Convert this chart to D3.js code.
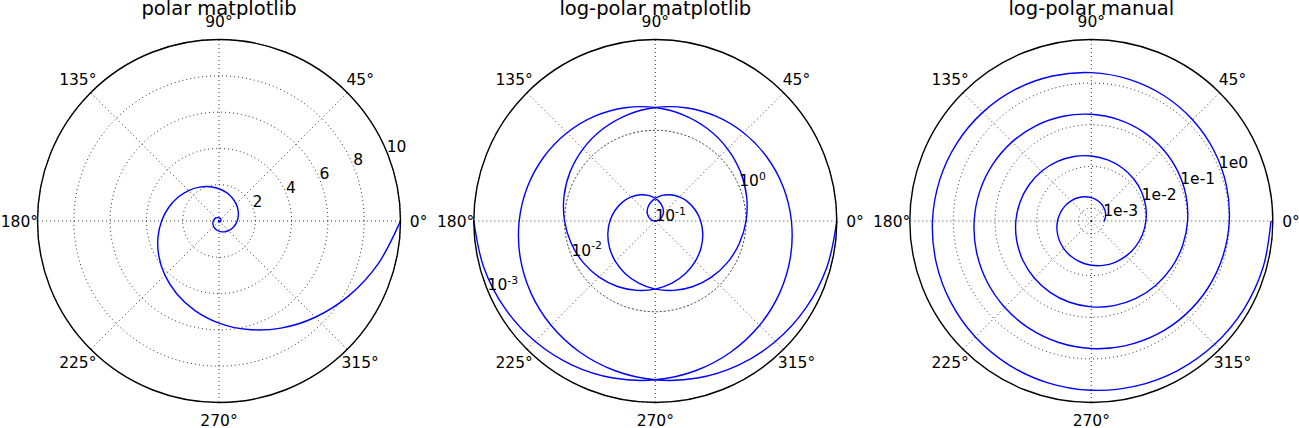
<!DOCTYPE html>
<html><head><meta charset="utf-8">
<script src="https://cdnjs.cloudflare.com/ajax/libs/d3/7.8.5/d3.min.js"></script>
<style>
html,body{margin:0;padding:0;background:#fff;}
svg{display:block;font-family:"DejaVu Sans",sans-serif;}
</style></head>
<body>
<svg id="chart" width="1299" height="428"></svg>
<script>
// ---- data ----
const titles = ["polar matplotlib", "log-polar matplotlib", "log-polar manual"];
// spiral samples: angle (degrees) and radius
const thetaDeg = [
  -1080,-1065,-1050,-1035,-1020,-1005,-990,-975,-960,-945,-930,-915,
  -900,-885,-870,-855,-840,-825,-810,-795,-780,-765,-750,-735,
  -720,-705,-690,-675,-660,-645,-630,-615,-600,-585,-570,-555,
  -540,-525,-510,-495,-480,-465,-450,-435,-420,-405,-390,-375,
  -360,-345,-330,-315,-300,-285,-270,-255,-240,-225,-210,-195,
  -180,-165,-150,-135,-120,-105,-90,-75,-60,-45,-30,-15,
  0,15,30,45,60,75,90,105,120,135,150,165,
  180,195,210,225,240,255,270,285,300,315,330,345,
  360];
const radius = [
  0.0010000,0.0011007,0.0012115,0.0013335,0.0014678,0.0016156,0.0017783,0.0019573,0.0021544,0.0023714,0.0026102,0.0028730,
  0.0031623,0.0034807,0.0038312,0.0042170,0.0046416,0.0051090,0.0056234,0.0061897,0.0068129,0.0074989,0.0082540,0.0090852,
  0.010000,0.011007,0.012115,0.013335,0.014678,0.016156,0.017783,0.019573,0.021544,0.023714,0.026102,0.028730,
  0.031623,0.034807,0.038312,0.042170,0.046416,0.051090,0.056234,0.061897,0.068129,0.074989,0.082540,0.090852,
  0.10000,0.11007,0.12115,0.13335,0.14678,0.16156,0.17783,0.19573,0.21544,0.23714,0.26102,0.28730,
  0.31623,0.34807,0.38312,0.42170,0.46416,0.51090,0.56234,0.61897,0.68129,0.74989,0.82540,0.90852,
  1.0000,1.1007,1.2115,1.3335,1.4678,1.6156,1.7783,1.9573,2.1544,2.3714,2.6102,2.8730,
  3.1623,3.4807,3.8312,4.2170,4.6416,5.1090,5.6234,6.1897,6.8129,7.4989,8.2540,9.0852,
  10.000];
const angleTicks = [0,45,90,135,180,225,270,315];
const angleLabels = ["0°","45°","90°","135°","180°","225°","270°","315°"];
const linTicks = [2,4,6,8,10];
const linTickLabels = ["2","4","6","8","10"];
const logTicks = [0.001,0.01,0.1,1];
const logTickExponents = ["-3","-2","-1","0"];
const manualTicks = [0.001,0.01,0.1,1];
const manualTickLabels = ["1e-3","1e-2","1e-1","1e0"];

// ---- layout ----
const svg = d3.select("#chart");
const centersX = [219, 655.3, 1091.3];
const cy = 221, R = 181.5;
const tickFs = 15.5, titleFs = 19.5;

const scales = [
  d3.scaleLinear().domain([0, 10]).range([0, R]),
  d3.scaleLog().domain([0.1, 10]).range([0, R]),
  d3.scaleLog().domain([Math.pow(10, -3.31), Math.pow(10, 1.044)]).range([0, R])
];

const rad = d => d * Math.PI / 180;

scales.forEach((sc, i) => {
  const cx = centersX[i];
  const g = svg.append("g");
  const pt = (deg, s) => [cx + s * Math.cos(rad(deg)), cy - s * Math.sin(rad(deg))];
  const circlePath = s => {
    const pts = d3.range(0, 361, 2).map(a => pt(a, s));
    return d3.line()(pts) + "Z";
  };
  const ticks = i === 0 ? linTicks : (i === 1 ? logTicks : manualTicks);
  // grid circles
  ticks.forEach(t => {
    const s = sc(t);
    if (Math.abs(s) < 0.5) return;
    g.append("path").attr("d", circlePath(s)).attr("fill", "none")
      .attr("stroke", "#000").attr("stroke-width", 0.8).attr("stroke-dasharray", "1,3");
  });
  // spokes
  angleTicks.forEach(a => {
    const p = pt(a, R);
    g.append("line").attr("x1", cx).attr("y1", cy).attr("x2", p[0]).attr("y2", p[1])
      .attr("stroke", "#000").attr("stroke-width", 0.8).attr("stroke-dasharray", "1,3");
  });
  // spiral
  const pts = thetaDeg.map((d, k) => pt(d, sc(radius[k])));
  g.append("path").attr("d", d3.line().curve(d3.curveCatmullRom.alpha(0.5))(pts))
    .attr("fill", "none").attr("stroke", "#0000ff").attr("stroke-width", 1.4);
  // frame
  g.append("circle").attr("cx", cx).attr("cy", cy).attr("r", R)
    .attr("fill", "none").attr("stroke", "#000").attr("stroke-width", 1.4);
  // angle labels
  angleTicks.forEach((a, k) => {
    const p = pt(a, R * 1.1);
    g.append("text").attr("x", p[0]).attr("y", p[1] + tickFs * 0.365)
      .attr("text-anchor", "middle").attr("font-size", tickFs).text(angleLabels[k]);
  });
  // radial labels
  ticks.forEach((t, k) => {
    const p = pt(22.5, sc(t));
    const tx = g.append("text").attr("x", p[0]).attr("y", p[1]).attr("font-size", tickFs);
    if (i === 0) tx.text(linTickLabels[k]);
    else if (i === 2) tx.text(manualTickLabels[k]);
    else {
      tx.append("tspan").text("10");
      tx.append("tspan").attr("font-size", tickFs * 0.7).attr("dy", -6.5).text(logTickExponents[k]);
    }
  });
  // title
  svg.append("text").attr("x", cx).attr("y", 15).attr("text-anchor", "middle")
    .attr("font-size", titleFs).text(titles[i]);
});
</script>
</body></html>
